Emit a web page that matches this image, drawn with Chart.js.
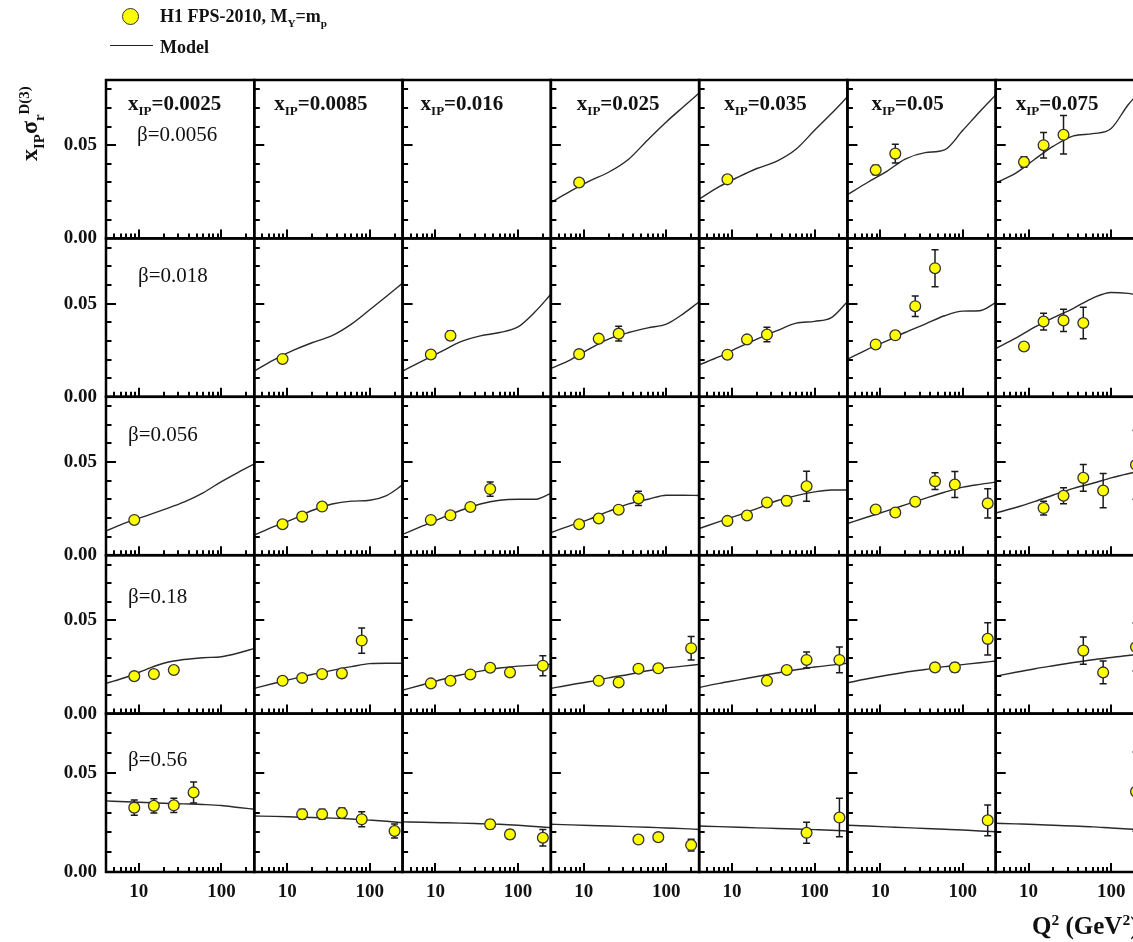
<!DOCTYPE html>
<html>
<head>
<meta charset="utf-8">
<title>H1 FPS-2010 reduced diffractive cross section</title>
<script src="https://cdn.jsdelivr.net/npm/chart.js@4.4.1/dist/chart.umd.min.js"></script>
<style>
  html, body { margin: 0; padding: 0; background: #fff; overflow: hidden; width: 1133px; height: 942px; }
  #wrap { position: relative; width: 1200px; height: 942px; }
  #c { position: absolute; left: 0; top: 0; }
  .t { position: absolute; font-family: "Liberation Serif", "Times New Roman", serif; font-weight: bold;
       color: #111; white-space: nowrap; line-height: 1; }
  .t sub { font-size: 0.62em; vertical-align: -0.45em; line-height: 0; }
  .t sup { font-size: 0.62em; vertical-align: 0.55em; line-height: 0; }
  #legDot { position: absolute; left: 122px; top: 8px; width: 17px; height: 17px; border-radius: 50%;
            background: #ffff00; border: 1.3px solid #333; box-sizing: border-box; }
  #legLine { position: absolute; left: 110px; top: 45px; width: 43px; height: 0; border-top: 1.6px solid #222; }
  #ytitle { left: 17px; top: 161px; font-size: 24px; transform-origin: left top; transform: rotate(-90deg); }
  #xtitle { left: 1032px; top: 913px; font-size: 25px; }
</style>
</head>
<body>
<div id="wrap">
  <canvas id="c" width="1200" height="942"></canvas>
  <div id="legDot"></div>
  <div class="t" style="left:160px;top:7px;font-size:18px;">H1 FPS-2010, M<sub>Y</sub>=m<sub>p</sub></div>
  <div id="legLine"></div>
  <div class="t" style="left:160px;top:38px;font-size:18px;">Model</div>
  <div class="t" id="ytitle">x<sub>IP</sub>σ<sub>r</sub><sup>D(3)</sup></div>
  <div class="t" id="xtitle">Q<sup>2</sup> (GeV<sup>2</sup>)</div>
</div>
<script>
// ---- panel headings ----
const xipValues  = ['0.0025', '0.0085', '0.016', '0.025', '0.035', '0.05', '0.075'];
const betaValues = ['0.0056', '0.018', '0.056', '0.18', '0.56'];

// ---- axes ----
const q2Min = 4, q2Max = 250;
const xTickValues = [5, 6, 7, 8, 9, 10, 20, 30, 40, 50, 60, 70, 80, 90, 100, 200];
const xMajorTicks = [10, 100];
const yTickValues = [0.01, 0.02, 0.03, 0.04, 0.05, 0.06, 0.07, 0.08];
const yMajorTicks = [0.05];
const yLabelTicks = [0, 0.05];
const rowYMax = [0.085, 0.085, 0.085, 0.085, 0.08];

// ---- measurements: [Q2, x_IP*sigma_r, error] per x_IP column ----
const pointsB0056 = [
  [], [], [],
  [[8.8, 0.0300, 0.0015]],
  [[8.8, 0.0317, 0.0015]],
  [[8.8, 0.0367, 0.0025], [15.2, 0.0455, 0.0050]],
  [[8.8, 0.0410, 0.0028], [15.2, 0.0500, 0.0068], [26.5, 0.0556, 0.0103]]
];
const pointsB018 = [
  [],
  [[8.8, 0.0203, 0.0012]],
  [[8.8, 0.0227, 0.0012], [15.2, 0.0328, 0.0025]],
  [[8.8, 0.0229, 0.0015], [15.2, 0.0312, 0.0018], [26.5, 0.0339, 0.0039]],
  [[8.8, 0.0226, 0.0015], [15.2, 0.0308, 0.0015], [26.5, 0.0334, 0.0039]],
  [[8.8, 0.0281, 0.0015], [15.2, 0.0330, 0.0020], [26.5, 0.0486, 0.0055], [46, 0.0690, 0.0099]],
  [[8.8, 0.0270, 0.0015], [15.2, 0.0404, 0.0045], [26.5, 0.0410, 0.0060], [46, 0.0396, 0.0085]]
];
const pointsB056 = [
  [[8.8, 0.0189, 0.0010]],
  [[8.8, 0.0166, 0.0010], [15.2, 0.0207, 0.0010], [26.5, 0.0261, 0.0020]],
  [[8.8, 0.0189, 0.0010], [15.2, 0.0214, 0.0010], [26.5, 0.0259, 0.0012], [46, 0.0355, 0.0038]],
  [[8.8, 0.0166, 0.0010], [15.2, 0.0197, 0.0010], [26.5, 0.0244, 0.0012], [46, 0.0305, 0.0038]],
  [[8.8, 0.0184, 0.0010], [15.2, 0.0213, 0.0012], [26.5, 0.0283, 0.0018], [46, 0.0292, 0.0025], [80, 0.0370, 0.0081]],
  [[8.8, 0.0245, 0.0018], [15.2, 0.0229, 0.0015], [26.5, 0.0287, 0.0020], [46, 0.0397, 0.0045], [80, 0.0379, 0.0070], [200, 0.0278, 0.0079]],
  [[15.2, 0.0253, 0.0037], [26.5, 0.0319, 0.0043], [46, 0.0415, 0.0072], [80, 0.0347, 0.0092], [200, 0.0485, 0.0185]]
];
const pointsB18 = [
  [[8.8, 0.0201, 0.0010], [15.2, 0.0212, 0.0010], [26.5, 0.0234, 0.0012]],
  [[8.8, 0.0176, 0.0010], [15.2, 0.0191, 0.0010], [26.5, 0.0212, 0.0010], [46, 0.0216, 0.0012], [80, 0.0392, 0.0068]],
  [[8.8, 0.0162, 0.0010], [15.2, 0.0176, 0.0010], [26.5, 0.0210, 0.0010], [46, 0.0246, 0.0012], [80, 0.0221, 0.0020], [200, 0.0257, 0.0054]],
  [[15.2, 0.0176, 0.0010], [26.5, 0.0167, 0.0010], [46, 0.0241, 0.0018], [80, 0.0243, 0.0018], [200, 0.0351, 0.0063]],
  [[26.5, 0.0176, 0.0010], [46, 0.0234, 0.0018], [80, 0.0288, 0.0043], [200, 0.0288, 0.0069]],
  [[46, 0.0248, 0.0018], [80, 0.0248, 0.0025], [200, 0.0401, 0.0087]],
  [[46, 0.0338, 0.0073], [80, 0.0221, 0.0061], [200, 0.0357, 0.0129]]
];
const pointsB56 = [
  [[8.8, 0.0325, 0.0039], [15.2, 0.0334, 0.0036], [26.5, 0.0337, 0.0036], [46, 0.0402, 0.0053]],
  [[15.2, 0.0292, 0.0025], [26.5, 0.0292, 0.0025], [46, 0.0298, 0.0025], [80, 0.0266, 0.0038], [200, 0.0207, 0.0035]],
  [[46, 0.0241, 0.0022], [80, 0.0190, 0.0022], [200, 0.0173, 0.0042]],
  [[46, 0.0164, 0.0015], [80, 0.0176, 0.0020], [200, 0.0136, 0.0030]],
  [[80, 0.0198, 0.0053], [200, 0.0275, 0.0097]],
  [[200, 0.0261, 0.0078]],
  [[200, 0.0406, 0.0200]]
];

// ---- model curves, sampled at modelQ2 ----
const modelQ2 = [4, 7, 12, 20, 35, 60, 100, 160, 250];
const modelB0056 = [
  null, null, null,
  [0.0193, 0.0255, 0.0310, 0.0355, 0.0425, 0.0530, 0.0625, 0.0705, 0.0780],
  [0.0211, 0.0278, 0.0330, 0.0375, 0.0415, 0.0480, 0.0580, 0.0670, 0.0760],
  [0.0235, 0.0300, 0.0360, 0.0425, 0.0460, 0.0475, 0.0580, 0.0680, 0.0770],
  [0.0297, 0.0350, 0.0426, 0.0495, 0.0550, 0.0562, 0.0590, 0.0716, 0.0810]
];
const modelB018 = [
  null,
  [0.0138, 0.0200, 0.0250, 0.0290, 0.0328, 0.0390, 0.0467, 0.0540, 0.0610],
  [0.0138, 0.0193, 0.0245, 0.0295, 0.0327, 0.0345, 0.0375, 0.0455, 0.0550],
  [0.0152, 0.0200, 0.0260, 0.0310, 0.0345, 0.0370, 0.0390, 0.0445, 0.0510],
  [0.0171, 0.0215, 0.0265, 0.0310, 0.0355, 0.0395, 0.0405, 0.0425, 0.0510],
  [0.0202, 0.0255, 0.0300, 0.0345, 0.0390, 0.0435, 0.0460, 0.0462, 0.0505],
  [0.0259, 0.0315, 0.0375, 0.0425, 0.0475, 0.0530, 0.0560, 0.0555, 0.0540]
];
const modelB056 = [
  [0.0130, 0.0175, 0.0210, 0.0245, 0.0285, 0.0335, 0.0395, 0.0445, 0.0490],
  [0.0108, 0.0155, 0.0195, 0.0240, 0.0275, 0.0290, 0.0295, 0.0320, 0.0377],
  [0.0112, 0.0157, 0.0200, 0.0240, 0.0275, 0.0295, 0.0300, 0.0300, 0.0332],
  [0.0121, 0.0160, 0.0195, 0.0235, 0.0275, 0.0300, 0.0322, 0.0322, 0.0320],
  [0.0143, 0.0180, 0.0215, 0.0250, 0.0292, 0.0320, 0.0340, 0.0350, 0.0350],
  [0.0170, 0.0205, 0.0238, 0.0270, 0.0305, 0.0338, 0.0365, 0.0380, 0.0392],
  [0.0226, 0.0256, 0.0289, 0.0323, 0.0359, 0.0386, 0.0415, 0.0437, 0.0455]
];
const modelB18 = [
  [0.0162, 0.0195, 0.0235, 0.0270, 0.0290, 0.0300, 0.0305, 0.0325, 0.0350],
  [0.0135, 0.0163, 0.0188, 0.0210, 0.0232, 0.0252, 0.0268, 0.0270, 0.0270],
  [0.0126, 0.0155, 0.0183, 0.0207, 0.0228, 0.0245, 0.0255, 0.0260, 0.0264],
  [0.0135, 0.0155, 0.0172, 0.0192, 0.0210, 0.0230, 0.0245, 0.0255, 0.0264],
  [0.0140, 0.0162, 0.0181, 0.0199, 0.0218, 0.0235, 0.0250, 0.0260, 0.0270],
  [0.0165, 0.0187, 0.0206, 0.0222, 0.0237, 0.0252, 0.0263, 0.0273, 0.0282],
  [0.0201, 0.0222, 0.0241, 0.0257, 0.0274, 0.0289, 0.0301, 0.0312, 0.0320]
];
const modelB56 = [
  [0.0359, 0.0355, 0.0351, 0.0347, 0.0344, 0.0341, 0.0336, 0.0326, 0.0317],
  [0.0283, 0.0281, 0.0278, 0.0275, 0.0272, 0.0268, 0.0262, 0.0256, 0.0249],
  [0.0253, 0.0251, 0.0249, 0.0247, 0.0244, 0.0241, 0.0236, 0.0230, 0.0224],
  [0.0241, 0.0238, 0.0235, 0.0232, 0.0229, 0.0226, 0.0222, 0.0219, 0.0215],
  [0.0232, 0.0229, 0.0226, 0.0223, 0.0220, 0.0217, 0.0214, 0.0211, 0.0207],
  [0.0236, 0.0232, 0.0228, 0.0224, 0.0220, 0.0216, 0.0212, 0.0207, 0.0203],
  [0.0246, 0.0243, 0.0240, 0.0236, 0.0232, 0.0228, 0.0222, 0.0217, 0.0213]
];

const rowPoints = [pointsB0056, pointsB018, pointsB056, pointsB18, pointsB56];
const rowModels = [modelB0056, modelB018, modelB056, modelB18, modelB56];

// ---- layout / style ----
const ROWS = betaValues.length, COLS = xipValues.length;
const SERIF = '"Liberation Serif", "Times New Roman", serif';
const INK = '#111';
const xipLabelDx = [22, 20, 18, 26, 25, 24, 20];
const betaLabelDx = [31, 32, 22, 22, 22];
const betaLabelDy = [61, 44, 44, 48, 52];

// ---- datasets: model line + data points for every panel ----
const datasets = [];
for (let r = 0; r < ROWS; r++) {
  for (let c = 0; c < COLS; c++) {
    const model = rowModels[r][c];
    if (model) {
      datasets.push({
        label: 'Model',
        data: modelQ2.map((q, i) => ({ x: q, y: model[i] })),
        xAxisID: 'x' + c, yAxisID: 'y' + r,
        showLine: true, borderColor: '#2a2a2a', borderWidth: 1.4,
        pointRadius: 0, cubicInterpolationMode: 'monotone', fill: false, order: 2
      });
    }
    const pts = rowPoints[r][c];
    if (pts.length) {
      datasets.push({
        label: 'H1 FPS-2010',
        data: pts.map(p => ({ x: p[0], y: p[1] })),
        errorBars: pts.map(p => p[2]),
        xAxisID: 'x' + c, yAxisID: 'y' + r,
        showLine: false, pointRadius: 5.4, pointStyle: 'circle',
        pointBackgroundColor: '#ffff00', pointBorderColor: '#333', pointBorderWidth: 1.3,
        order: 1
      });
    }
  }
}

// ---- scales: stacked log x axes (columns) and stacked linear y axes (rows) ----
const scales = {};
for (let c = 0; c < COLS; c++) {
  scales['x' + c] = {
    type: 'logarithmic', position: 'bottom', stack: 'columns', stackWeight: 1, weight: c,
    min: q2Min, max: q2Max,
    afterBuildTicks: axis => { axis.ticks = xTickValues.map(v => ({ value: v })); },
    afterFit: axis => { axis.height = 70; },
    grid: { display: false, drawTicks: false }, border: { display: false },
    ticks: {
      autoSkip: false, maxRotation: 0, padding: 9, color: INK,
      font: { family: SERIF, size: 19, weight: 'bold' },
      callback: v => (xMajorTicks.includes(v) ? String(v) : '')
    }
  };
}
for (let r = 0; r < ROWS; r++) {
  scales['y' + r] = {
    type: 'linear', position: 'left', stack: 'rows', stackWeight: 1, weight: ROWS - r,
    min: 0, max: rowYMax[r],
    afterBuildTicks: axis => {
      axis.ticks = [0, ...yTickValues].filter(v => v < axis.max - 1e-9).map(v => ({ value: v }));
    },
    afterFit: axis => { axis.width = 106; },
    grid: { display: false, drawTicks: false }, border: { display: false },
    ticks: {
      autoSkip: false, padding: 9, color: INK,
      font: { family: SERIF, size: 19, weight: 'bold' },
      callback: v => (yLabelTicks.some(t => Math.abs(t - v) < 1e-9) ? v.toFixed(2) : '')
    }
  };
}

// ---- frames, inward ticks, error bars and panel headings ----
const panelPlugin = {
  id: 'panelPlugin',
  beforeDatasetDraw(chart, args) {
    const ds = chart.data.datasets[args.index];
    if (!ds.errorBars) return;
    const xs = chart.scales[ds.xAxisID], ys = chart.scales[ds.yAxisID];
    const ctx = chart.ctx;
    ctx.save();
    ctx.beginPath();
    ctx.rect(xs.left, ys.top, xs.right - xs.left, ys.bottom - ys.top);
    ctx.clip();
    ctx.strokeStyle = '#1a1a1a';
    ctx.lineWidth = 1.5;
    ctx.beginPath();
    ds.data.forEach((p, i) => {
      const e = ds.errorBars[i];
      const px = xs.getPixelForValue(p.x);
      const top = ys.getPixelForValue(p.y + e), bot = ys.getPixelForValue(p.y - e);
      ctx.moveTo(px, top); ctx.lineTo(px, bot);
      ctx.moveTo(px - 3.5, top); ctx.lineTo(px + 3.5, top);
      ctx.moveTo(px - 3.5, bot); ctx.lineTo(px + 3.5, bot);
    });
    ctx.stroke();
    ctx.restore();
  },
  afterDatasetsDraw(chart) {
    const ctx = chart.ctx;
    ctx.save();
    ctx.strokeStyle = '#000';
    for (let r = 0; r < ROWS; r++) {
      const ys = chart.scales['y' + r];
      for (let c = 0; c < COLS; c++) {
        const xs = chart.scales['x' + c];
        ctx.lineWidth = 2;
        ctx.beginPath();
        for (const v of yTickValues) {
          if (v >= ys.max - 1e-9) continue;
          const py = Math.round(ys.getPixelForValue(v));
          const len = yMajorTicks.includes(v) ? 10 : 5.5;
          ctx.moveTo(xs.left, py); ctx.lineTo(xs.left + len, py);
        }
        for (const q of xTickValues) {
          const px = Math.round(xs.getPixelForValue(q));
          const len = xMajorTicks.includes(q) ? 9 : 5;
          ctx.moveTo(px, ys.bottom); ctx.lineTo(px, ys.bottom - len);
        }
        ctx.stroke();
        ctx.lineWidth = 2.5;
        ctx.strokeRect(xs.left, ys.top, xs.right - xs.left, ys.bottom - ys.top);
      }
    }
    ctx.restore();
  },
  afterDraw(chart) {
    const ctx = chart.ctx;
    ctx.save();
    ctx.fillStyle = INK;
    ctx.textBaseline = 'alphabetic';
    ctx.textAlign = 'left';
    const y0 = chart.scales['y0'];
    // x_IP headings along the top row
    for (let c = 0; c < COLS; c++) {
      const xs = chart.scales['x' + c];
      let x = xs.left + xipLabelDx[c];
      const y = y0.top + 30;
      ctx.font = `bold 21px ${SERIF}`;
      ctx.fillText('x', x, y);
      x += ctx.measureText('x').width;
      ctx.font = `bold 13px ${SERIF}`;
      ctx.fillText('IP', x, y + 5);
      x += ctx.measureText('IP').width;
      ctx.font = `bold 21px ${SERIF}`;
      ctx.fillText('=' + xipValues[c], x, y);
    }
    // beta headings in the first column
    const x0 = chart.scales['x0'];
    ctx.font = `21px ${SERIF}`;
    for (let r = 0; r < ROWS; r++) {
      const ys = chart.scales['y' + r];
      ctx.fillText('β=' + betaValues[r], x0.left + betaLabelDx[r], ys.top + betaLabelDy[r]);
    }
    ctx.restore();
  }
};

new Chart(document.getElementById('c'), {
  type: 'scatter',
  data: { datasets },
  options: {
    responsive: false,
    animation: false,
    events: [],
    layout: { padding: { top: 80, right: 56, left: 0, bottom: 0 } },
    plugins: { legend: { display: false }, tooltip: { enabled: false }, title: { display: false } },
    scales
  },
  plugins: [panelPlugin]
});
</script>
</body>
</html>
